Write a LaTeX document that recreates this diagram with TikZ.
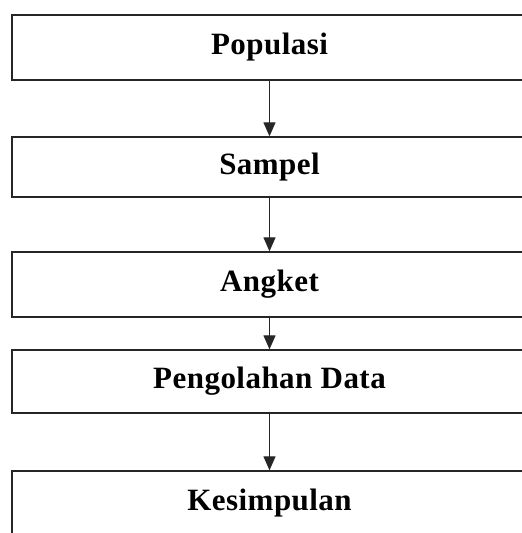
\documentclass[tikz,border=0pt]{standalone}
\usepackage{fontspec}
\setmainfont{Liberation Serif}[LetterSpace=1.5]
\usetikzlibrary{arrows.meta}
\begin{document}
\begin{tikzpicture}[x=1pt,y=1pt,
  stage/.style={draw=black!85, line width=1.3pt, rectangle, minimum width=515pt,
    inner sep=0pt, font=\fontsize{31}{36}\selectfont\bfseries},
  flow/.style={line width=1.2pt, draw=black!85,
    -{Triangle[width=12pt,length=14pt]}}]
\clip (0,0) rectangle (522,533);
\fill[white] (0,0) rectangle (522,533);
\node[stage, minimum height=65pt] (pop) at (269.5,485.5) {Populasi};
\node[stage, minimum height=60pt] (smp) at (269.5,366) {Sampel};
\node[stage, minimum height=65pt] (ang) at (269.5,248.5) {Angket};
\node[stage, minimum height=63pt] (olah) at (269.5,151.5) {Pengolahan Data};
\node[stage, minimum height=65pt] (kes) at (269.5,29.5) {Kesimpulan};
\draw[flow] (pop) -- (smp);
\draw[flow] (smp) -- (ang);
\draw[flow] (ang) -- (olah);
\draw[flow] (olah) -- (kes);
\end{tikzpicture}
\end{document}
